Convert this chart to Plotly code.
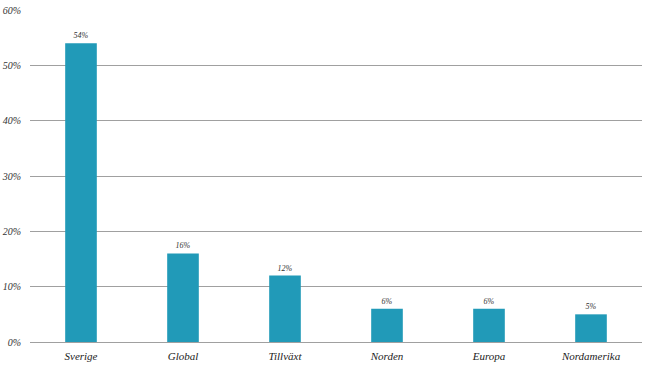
import plotly.graph_objects as go

categories = ["Sverige", "Global", "Tillväxt", "Norden", "Europa", "Nordamerika"]
values = [54, 16, 12, 6, 6, 5]
labels = [f"{v}%" for v in values]
tick_vals = [0, 10, 20, 30, 40, 50, 60]
tick_text = [f"{v}%" for v in tick_vals]

font_family = "Liberation Serif"

fig = go.Figure(go.Bar(
    x=categories, y=values, text=labels, textposition="outside",
    textfont=dict(family=font_family, size=8, color="#333", style="italic"),
    marker=dict(color="#219ab8", line=dict(width=0)),
    cliponaxis=False,
))
fig.update_layout(
    width=650, height=366,
    margin=dict(l=30, r=8, t=10, b=24),
    paper_bgcolor="white", plot_bgcolor="white",
    bargap=0.69, showlegend=False,
    font=dict(family=font_family, size=10, color="#333", style="italic"),
    xaxis=dict(showline=False, ticks="", automargin=False, ticklabelstandoff=6,
               tickfont=dict(size=11, style="italic", family=font_family, color="#222")),
    yaxis=dict(range=[0, 60], tickvals=tick_vals, ticktext=tick_text,
               showgrid=True, gridcolor="#a0a0a0", gridwidth=1,
               zeroline=True, zerolinecolor="#a0a0a0", zerolinewidth=1,
               ticks="", ticklabelstandoff=8, automargin=False,
               tickfont=dict(size=10, style="italic", family=font_family, color="#333")),
)
fig.write_html("out.html")
